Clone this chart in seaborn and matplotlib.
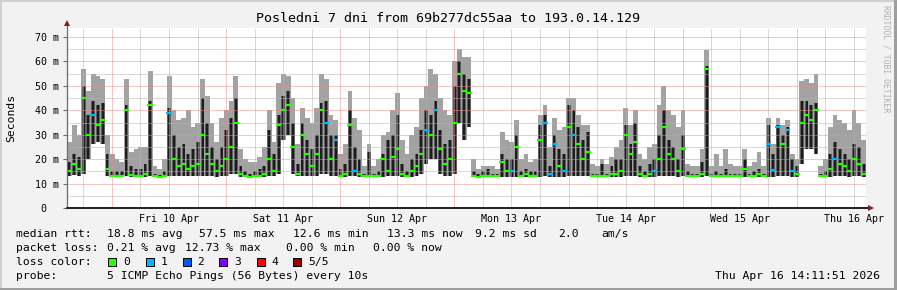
import numpy as np
import pandas as pd
import matplotlib
matplotlib.use("Agg")
import matplotlib.pyplot as plt
import seaborn as sns
from matplotlib.patches import Rectangle

# ---------------- data (hourly bins, start 2026-04-09 14:33) ----------------
median_ms = [
    15, 18, 16, 45, 30, 38, 34, 36, 16, 13, 13, 13,
    40, 13.5, 13, 13, 14, 42, 13, 12.8, 13, 39, 20, 17,
    18, 16, 17, 18, 30, 22, 18, 15, 17, 20, 25, 35,
    14, 13, 12.8, 13, 13, 14, 20, 15, 34, 40, 42, 25,
    14, 30, 22, 17, 22, 40, 35, 20, 28, 13, 14, 34,
    15, 14, 13, 13, 12.9, 13, 20, 15, 21, 24, 14, 13,
    15, 17, 22, 32, 30, 40, 24, 18, 20, 35, 55, 48,
    47, 13, 12.8, 13, 12.9, 13, 13, 19, 15, 15, 25, 13,
    14, 13, 13, 28, 35, 14, 26, 17, 15, 33, 30, 26,
    20, 23, 13, 12.9, 13, 13, 14, 14, 15, 30, 22, 27,
    14, 13, 14, 15, 20, 33, 22, 20, 15, 24, 13, 13,
    12.9, 14, 57, 13, 13, 12.9, 13, 13, 12.9, 13, 16, 13,
    13, 14, 13, 26, 15.6, 33, 26, 32, 15, 14, 35, 38,
    36, 40, 13, 13, 16, 20, 18, 17, 15, 20, 18, 14,
]
dense_top_ms = [
    19, 22, 21, 50, 38, 44, 42, 43, 22, 15, 15, 15,
    42, 17, 16, 16, 18, 44, 14, 13.5, 15, 41, 30, 25,
    26, 22, 24, 27, 45, 35, 25, 20, 25, 32, 37, 45,
    17, 15, 14, 15, 16, 17, 32, 22, 38, 46, 48, 35,
    18, 35, 28, 24, 30, 43, 44, 30, 30, 16, 18, 40,
    25, 20, 14, 23, 14, 15, 22, 28, 30, 38, 18, 15,
    20, 22, 32, 40, 38, 44, 32, 26, 28, 50, 60, 55,
    53, 15, 14, 15, 16, 14, 14, 22, 20, 20, 30, 15,
    16, 15, 15, 34, 38, 17, 30, 24, 22, 42, 40, 33,
    28, 31, 14, 14, 18, 14, 17, 20, 20, 34, 26, 35,
    17, 15, 18, 20, 30, 40, 28, 25, 20, 30, 15, 14,
    14, 19, 58, 14, 15, 14, 16, 14, 14, 14, 20, 14,
    15, 16, 14, 34, 22, 34, 30, 33, 20, 17, 44, 44,
    42, 43, 14, 15, 22, 27, 24, 22, 20, 26, 25, 18,
]
max_ms = [
    27, 34, 30, 57, 48, 55, 54, 53, 30, 22, 20, 19,
    53, 23, 24, 25, 25, 56, 17, 16, 20, 54, 40, 36,
    37, 40, 33, 35, 53, 46, 35, 27, 37, 40, 44, 54,
    24, 20, 19, 19, 21, 25, 40, 27, 51, 55, 54, 45,
    26, 41, 37, 35, 41, 55, 53, 38, 36, 22, 26, 48,
    37, 32, 17, 26, 17, 20, 30, 31, 40, 47, 28, 22,
    30, 33, 45, 50, 57, 55, 45, 40, 38, 60, 65, 62,
    62, 20, 16, 17, 17, 17, 16, 31, 28, 27, 36, 20,
    22, 19, 20, 38, 42, 25, 37, 32, 33, 45, 45, 38,
    34, 34, 18, 17, 20, 18, 21, 25, 28, 41, 34, 40,
    22, 20, 25, 26, 42, 50, 40, 38, 33, 40, 18, 17,
    17, 24, 64.5, 17, 22, 17, 24, 18, 17, 17, 24, 17,
    19, 23, 17, 37, 26, 37, 34, 36, 22, 20, 52, 53,
    51, 55, 17, 20, 33, 38, 36, 35, 32, 40, 35, 28,
]
min_ms = [
    13, 13.5, 13, 14, 20, 26, 27, 26, 13, 12.7, 12.7, 12.7,
    13, 12.8, 12.7, 12.7, 12.8, 13, 12.6, 12.6, 12.6, 13, 13, 13,
    13, 13, 13, 13, 13, 13, 13, 12.8, 13, 13, 14, 14,
    12.8, 12.6, 12.6, 12.6, 12.6, 12.7, 13, 13, 14, 28, 30, 14,
    13, 13, 13, 13, 13, 14, 14, 13, 13, 12.6, 12.8, 13,
    13, 12.8, 12.6, 12.6, 12.6, 12.6, 12.8, 13, 13, 13, 12.8, 12.6,
    12.8, 13, 14, 18, 20, 20, 14, 13, 13, 14, 35, 28,
    33, 12.6, 12.5, 12.5, 12.5, 12.5, 12.5, 12.7, 12.7, 12.7, 12.8, 12.6,
    12.6, 12.6, 12.6, 12.8, 13, 12.7, 12.8, 12.8, 12.8, 13, 13, 13,
    13, 13, 12.6, 12.6, 12.6, 12.6, 12.6, 12.7, 12.7, 13, 13, 13,
    12.7, 12.6, 12.7, 12.7, 13, 13, 13, 13, 12.8, 13, 12.6, 12.6,
    12.6, 12.6, 13, 12.6, 12.6, 12.6, 12.6, 12.6, 12.6, 12.6, 12.6, 12.6,
    12.6, 12.6, 12.6, 12.8, 12.8, 13, 13, 13, 12.7, 12.7, 18, 24,
    24, 22, 12.6, 12.6, 12.8, 13, 13, 13, 12.8, 13, 13, 12.8,
]
loss_one_bins = [5, 21, 54, 56, 60, 75, 77, 93, 100, 101, 102, 104, 106,
                 123, 147, 148, 149, 151, 152, 161]

day_labels = ["Fri 10 Apr", "Sat 11 Apr", "Sun 12 Apr", "Mon 13 Apr",
              "Tue 14 Apr", "Wed 15 Apr", "Thu 16 Apr"]
y_ticks = [0, 10, 20, 30, 40, 50, 60, 70]
y_tick_labels = ["0  ", "10 m", "20 m", "30 m", "40 m", "50 m", "60 m", "70 m"]
loss_names = ["0", "1", "2", "3", "4", "5/5"]
loss_colors = ["#26FF00", "#00B8FF", "#0059FF", "#7E00FF", "#FF0000", "#A10000"]

title = "Posledni 7 dni from 69b277dc55aa to 193.0.14.129"

# ---------------- figure ----------------
sns.set_theme(style="white")
plt.rcParams["font.family"] = ["DejaVu Sans Mono", "DejaVu Sans"]

W, H = 897, 290
fig = plt.figure(figsize=(W / 100, H / 100), dpi=100, facecolor="#F2F2F2")


def fx(x):
    return x / W


def fy(y):
    return 1 - y / H


# 3D frame
fig.patches.append(Rectangle((0, fy(2)), 1, 2 / H, transform=fig.transFigure, facecolor="#CFCFCF", lw=0))
fig.patches.append(Rectangle((0, 0), 2 / W, 1, transform=fig.transFigure, facecolor="#CFCFCF", lw=0))
fig.patches.append(Rectangle((0, 0), 1, 2 / H, transform=fig.transFigure, facecolor="#9E9E9E", lw=0))
fig.patches.append(Rectangle((1 - 3 / W, 0), 3 / W, 1, transform=fig.transFigure, facecolor="#9E9E9E", lw=0))

ax = fig.add_axes([fx(67), fy(208), 799 / W, 180 / H])
ax.set_facecolor("white")
NB = len(median_ms)
ax.set_xlim(0, NB)
ax.set_ylim(0, 73.7)

hours = np.arange(NB)
lo = np.asarray(min_ms, float)
dk = np.asarray(dense_top_ms, float)
hi = np.asarray(max_ms, float)

# smoke: outer range light grey, dense part mid grey with a black core
ax.bar(hours, hi - lo, bottom=lo, width=1.0, align="edge", color="#A2A2A2", lw=0, zorder=1)
ax.bar(hours + 0.5, dk - lo, bottom=lo, width=0.8, align="center", color="#5E5E5E", lw=0, zorder=2)
ax.bar(hours + 0.5, dk - lo, bottom=lo, width=0.42, align="center", color="#1C1C1C", lw=0, zorder=2)

# grid
start = pd.Timestamp("2026-04-09 14:33")
mid0 = (pd.Timestamp("2026-04-10") - start) / pd.Timedelta(hours=1)
midnights = mid0 + 24 * np.arange(7)
six = np.arange(mid0 - 6, NB, 6)
six = [s for s in six if 0 < s < NB and not np.any(np.isclose(s, midnights))]
noons = mid0 + 12 + 24 * np.arange(7)

dash = (0, (1, 1))
ax.vlines(six, 0, 73.7, colors="#B4B4B4", linestyles=dash, lw=0.72, zorder=3)
ax.hlines([5, 15, 25, 35, 45, 55, 65], 0, NB, colors="#B4B4B4", linestyles=dash, lw=0.72, zorder=3)
ax.vlines(midnights, 0, 73.7, colors="#EB9090", linestyles=dash, lw=0.72, zorder=3)
ax.hlines([10, 20, 30, 40, 50, 60, 70], 0, NB, colors="#EB9090", linestyles=dash, lw=0.72, zorder=3)

# median dashes coloured by loss
df = pd.DataFrame({
    "t": hours + 0.5,
    "median": median_ms,
    "loss": ["1" if h in loss_one_bins else "0" for h in hours],
})
sns.scatterplot(data=df, x="t", y="median", hue="loss",
                palette={"0": loss_colors[0], "1": loss_colors[1]},
                marker="_", s=16, linewidth=1.6, legend=False, ax=ax, zorder=5)
ax.set_xlabel("")
ax.set_ylabel("")

# axes lines & arrows
for s in ax.spines.values():
    s.set_visible(False)
ax.plot([0, 0], [0, (208 - 23) / 180], transform=ax.transAxes, color="#6A6A6A", lw=0.9, clip_on=False, zorder=6)
ax.plot([0, (869 - 67) / 799], [0, 0], transform=ax.transAxes, color="#1F1F1F", lw=1.4, clip_on=False, zorder=6)
ax.plot([0], [(208 - 23) / 180], marker="^", ms=4.2, color="#801F1F", transform=ax.transAxes, clip_on=False, zorder=7, mew=0)
ax.plot([(871 - 67) / 799], [0], marker=">", ms=4.2, color="#801F1F", transform=ax.transAxes, clip_on=False, zorder=7, mew=0)

ax.set_yticks(y_ticks, y_tick_labels)
ax.set_xticks(noons, day_labels)
ax.tick_params(axis="y", length=3, width=0.8, color="#6A6A6A", pad=2.6, labelsize=7.2, labelcolor="black", left=True)
ax.tick_params(axis="x", length=0, pad=4, labelsize=7.2, labelcolor="black", bottom=True)

# texts
fig.text(fx(448), fy(19), title, ha="center", va="center", fontsize=9.6, color="black")
fig.text(fx(11), fy(118), "Seconds", rotation=90, ha="center", va="center", fontsize=8.2, color="black")
fig.text(fx(886), fy(5), "RRDTOOL / TOBI OETIKER", rotation=270, ha="center", va="top", fontsize=5.9, color="#B0B0B0")

fs = 8.2
rows = {1: 234, 2: 248, 3: 262, 4: 276}
items = [
    (16, 1, "median rtt:"), (107, 1, "18.8 ms avg"), (199, 1, "57.5 ms max"),
    (293, 1, "12.6 ms min"), (387, 1, "13.3 ms now"), (475, 1, "9.2 ms sd"),
    (558, 1, "2.0"), (601, 1, "am/s"),
    (16, 2, "packet loss:"), (107, 2, "0.21 % avg"), (185, 2, "12.73 % max"),
    (286, 2, "0.00 % min"), (373, 2, "0.00 % now"),
    (16, 3, "loss color:"),
    (16, 4, "probe:"), (107, 4, "5 ICMP Echo Pings (56 Bytes) every 10s"),
]
for x, r, t in items:
    fig.text(fx(x), fy(rows[r]), t, ha="left", va="center", fontsize=fs, color="black")
fig.text(fx(880), fy(rows[4]), "Thu Apr 16 14:11:51 2026", ha="right", va="center", fontsize=fs, color="black")

box_x = [108, 146, 183, 219, 257, 293]
lab_x = [123, 161, 197, 234, 271, 308]
for bx, lx, name, col in zip(box_x, lab_x, loss_names, loss_colors):
    fig.patches.append(Rectangle((fx(bx), fy(rows[3] + 4)), 8 / W, 8 / H, transform=fig.transFigure,
                                 facecolor=col, edgecolor="black", lw=0.7))
    fig.text(fx(lx), fy(rows[3]), name, ha="left", va="center", fontsize=fs, color="black")

fig.savefig("out.png", dpi=100, facecolor=fig.get_facecolor())
